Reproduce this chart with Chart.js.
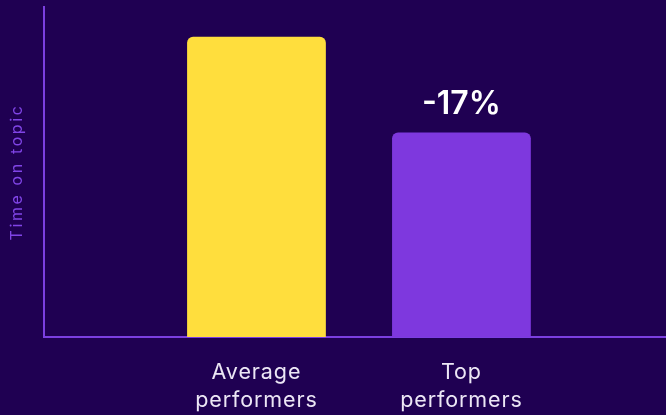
<!DOCTYPE html>
<html>
<head>
<meta charset="utf-8">
<script src="https://cdn.jsdelivr.net/npm/chart.js@4"></script>
<style>
  html, body { margin: 0; padding: 0; background: #1f0052; }
  #wrap { width: 666px; height: 415px; }
</style>
</head>
<body>
<div id="wrap"><canvas id="c" width="666" height="415"></canvas></div>
<script>
const categories = [["Average", "performers"], ["Top", "performers"]];
const values = [91, 62];
const barLabels = ["", "-17%"];
const barColors = ["#ffde3d", "#7e38de"];
const yTitle = "Time on topic";

const points = categories.map((c, i) => ({ x: i, y: values[i] }));

const spacingPlugin = {
  id: 'spacing',
  beforeDraw(chart) { chart.ctx.letterSpacing = '0.9px'; },
  afterDatasetsDraw(chart) {
    const ctx = chart.ctx;
    const meta = chart.getDatasetMeta(0);
    ctx.save();
    ctx.letterSpacing = '0px';
    ctx.fillStyle = '#ffffff';
    ctx.font = '600 32px Inter';
    ctx.textAlign = 'center';
    ctx.textBaseline = 'middle';
    meta.data.forEach((bar, i) => {
      if (barLabels[i]) ctx.fillText(barLabels[i], bar.x, bar.y - 28);
    });
    ctx.restore();
    // y title layer (z = 1) is drawn after this, with wider spacing
    ctx.letterSpacing = '2.6px';
  }
};

new Chart(document.getElementById('c'), {
  type: 'bar',
  data: {
    datasets: [{
      data: points,
      backgroundColor: barColors,
      borderRadius: 6,
      borderSkipped: 'start',
      barPercentage: 1,
      categoryPercentage: 0.677
    }]
  },
  options: {
    responsive: false,
    animation: false,
    devicePixelRatio: 1,
    layout: { padding: { top: 7, right: 0, left: 0, bottom: 0 } },
    plugins: { legend: { display: false }, tooltip: { enabled: false } },
    scales: {
      x: {
        type: 'linear',
        offset: false,
        min: -1.0366,
        max: 1.998,
        grid: { display: false, offset: false },
        border: { display: true, color: '#7b3fe0', width: 2 },
        ticks: {
          stepSize: 1,
          includeBounds: false,
          autoSkip: false,
          maxRotation: 0,
          padding: 14,
          color: '#ece6f5',
          font: { family: 'Inter', size: 21.5, lineHeight: 1.3 },
          callback: (v) => (categories[v] !== undefined ? categories[v] : '')
        },
        afterFit(s) { s.height = 78; }
      },
      y: {
        min: 0,
        max: 100,
        grid: { display: false, z: 1 },
        border: { display: true, color: '#7b3fe0', width: 2, z: 1 },
        ticks: { display: false, z: 1 },
        title: {
          display: true,
          text: yTitle,
          color: '#8044e6',
          font: { family: 'Inter', size: 16 },
          padding: { top: 8, bottom: 0 }
        },
        afterFit(s) { s.width = 44; }
      }
    }
  },
  plugins: [spacingPlugin]
});
</script>
</body>
</html>
